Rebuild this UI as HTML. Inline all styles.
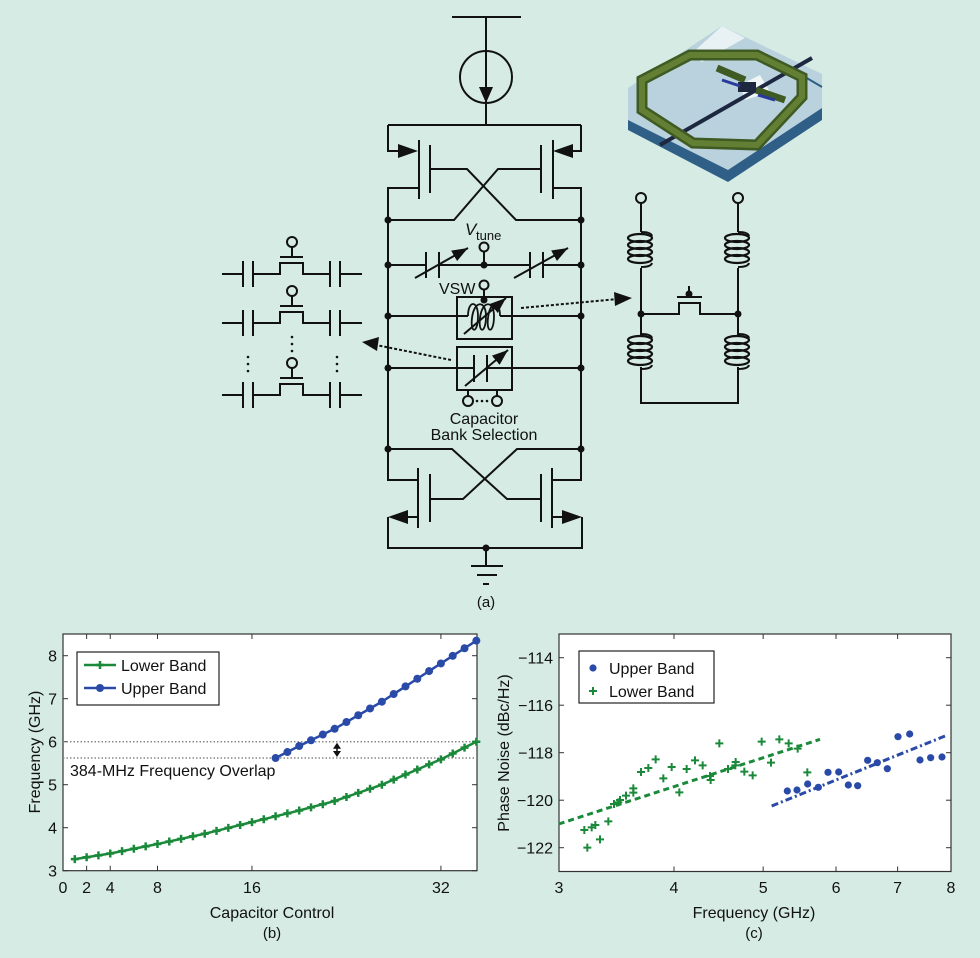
<!DOCTYPE html>
<html><head><meta charset="utf-8"><style>
html,body{margin:0;padding:0;background:#d5ebe3;}
svg{display:block;font-family:"Liberation Sans",sans-serif;}
</style></head><body>
<svg id="s" width="980" height="958" viewBox="0 0 980 958" xmlns="http://www.w3.org/2000/svg">
<defs>
<marker id="ah2" viewBox="0 0 10 10" markerWidth="16" markerHeight="12" refX="10" refY="5" orient="auto" markerUnits="userSpaceOnUse" preserveAspectRatio="none"><path d="M0,0 L10,5 L0,10 z" fill="#111"/></marker>
</defs>
<rect width="980" height="958" fill="#d5ebe3"/>

<!-- 3D inductor -->
<g>
<polygon points="628,92 722,30 822,80 822,120 728,182 628,130" fill="#2f5f86"/>
<polygon points="628,88 722,26 822,74 822,108 728,170 628,120" fill="#b9d2de"/>
<polygon points="722,26 745,38 702,62 690,55" fill="#e8f2f5"/>
<polygon points="740,85 760,75 770,92 745,100" fill="#f0f6f6"/>
<line x1="660" y1="145" x2="812" y2="58" stroke="#1e2740" stroke-width="4"/>
<line x1="805" y1="77" x2="822" y2="87" stroke="#2f5f86" stroke-width="2"/>
<polygon points="642,80 690,55 757,55 802,77 802,97 757,145 693,143 642,110" fill="none" stroke="#3f5a22" stroke-width="11" stroke-linejoin="miter"/>
<polygon points="642,80 690,55 757,55 802,77 802,97 757,145 693,143 642,110" fill="none" stroke="#637f34" stroke-width="6"/>
<line x1="717" y1="68" x2="745" y2="80" stroke="#3f5a22" stroke-width="7"/>
<line x1="756" y1="90" x2="785" y2="100" stroke="#3f5a22" stroke-width="7"/>
<rect x="738" y="82" width="18" height="10" fill="#1e2740"/>
<line x1="722" y1="80" x2="740" y2="86" stroke="#2a3a9a" stroke-width="3"/>
<line x1="758" y1="95" x2="775" y2="100" stroke="#2a3a9a" stroke-width="3"/>
</g>

<g stroke="#111" stroke-width="2" fill="none">
<line x1="452" y1="17" x2="521" y2="17"/>
<line x1="486" y1="17" x2="486" y2="125"/>
<circle cx="486" cy="77" r="26"/>
<line x1="388" y1="125" x2="581" y2="125"/>
<polyline points="388,125 388,151 405,151"/>
<line x1="419" y1="140" x2="419" y2="199"/>
<line x1="430" y1="145" x2="430" y2="193"/>
<polyline points="419,188 388,188 388,480 418,480"/>
<polyline points="430,169 467,169 516,220 581,220"/>
<polyline points="581,125 581,151 566,151"/>
<line x1="553" y1="140" x2="553" y2="199"/>
<line x1="541" y1="145" x2="541" y2="193"/>
<polyline points="553,188 581,188 581,480 552,480"/>
<polyline points="541,169 498,169 454,220 388,220"/>
<line x1="388" y1="265" x2="426" y2="265"/>
<line x1="426" y1="252" x2="426" y2="278"/>
<line x1="439" y1="252" x2="439" y2="278"/>
<line x1="439" y1="265" x2="530" y2="265"/>
<line x1="530" y1="252" x2="530" y2="278"/>
<line x1="543" y1="252" x2="543" y2="278"/>
<line x1="543" y1="265" x2="581" y2="265"/>
<line x1="484" y1="265" x2="484" y2="252"/>
<circle cx="484" cy="247" r="4.5" fill="#d5ebe3"/>
<line x1="388" y1="316" x2="457" y2="316"/>
<line x1="512" y1="316" x2="581" y2="316"/>
<rect x="457" y="297" width="55" height="42"/>
<line x1="457" y1="316" x2="468" y2="316"/>
<line x1="500" y1="316" x2="512" y2="316"/>
<path d="M468,316 C468,300 478,300 478,316 C478,334 470,334 472,318 C474,300 486,300 486,316 C486,334 478,334 480,318 C482,300 494,300 494,316 C494,334 486,334 488,318 C490,300 500,300 500,316" stroke-width="1.8"/>
<line x1="484" y1="290" x2="484" y2="300"/>
<circle cx="484" cy="285" r="4.5" fill="#d5ebe3"/>
<line x1="388" y1="368" x2="457" y2="368"/>
<line x1="512" y1="368" x2="581" y2="368"/>
<rect x="457" y="347" width="55" height="43"/>
<line x1="457" y1="368" x2="474" y2="368"/>
<line x1="474" y1="355" x2="474" y2="382"/>
<line x1="487" y1="355" x2="487" y2="382"/>
<line x1="487" y1="368" x2="512" y2="368"/>
<line x1="468" y1="390" x2="468" y2="396"/>
<line x1="497" y1="390" x2="497" y2="396"/>
<circle cx="468" cy="401" r="5" fill="#d5ebe3"/>
<circle cx="497" cy="401" r="5" fill="#d5ebe3"/>
<polyline points="388,449 452,449 507,499 541,499"/>
<polyline points="581,449 517,449 463,499 430,499"/>
<line x1="430" y1="474" x2="430" y2="522"/>
<line x1="418" y1="468" x2="418" y2="528"/>
<line x1="541" y1="474" x2="541" y2="522"/>
<line x1="552" y1="468" x2="552" y2="528"/>
<polyline points="418,517 400,517"/>
<polyline points="552,517 570,517"/>
<polyline points="388,517 388,548 582,548 582,517"/>
<line x1="486" y1="548" x2="486" y2="566"/>
<line x1="471" y1="566" x2="503" y2="566"/>
<line x1="477" y1="575" x2="497" y2="575"/>
<line x1="483" y1="584" x2="489" y2="584"/>
</g>
<g fill="#111">
<polygon points="486,103 479,87 493,87"/>
<polygon points="418,151 398,144 398,158"/>
<polygon points="553,151 573,144 573,158"/>
<polygon points="388,517 408,510 408,524"/>
<polygon points="582,517 562,510 562,524"/>
<circle cx="388" cy="220" r="3.5"/><circle cx="581" cy="220" r="3.5"/>
<circle cx="388" cy="265" r="3.5"/><circle cx="581" cy="265" r="3.5"/><circle cx="484" cy="265" r="3.5"/>
<circle cx="388" cy="316" r="3.5"/><circle cx="581" cy="316" r="3.5"/><circle cx="484" cy="300" r="3.5"/>
<circle cx="388" cy="368" r="3.5"/><circle cx="581" cy="368" r="3.5"/>
<circle cx="388" cy="449" r="3.5"/><circle cx="581" cy="449" r="3.5"/>
<circle cx="486" cy="548" r="3.5"/>
<circle cx="477" cy="401" r="1.3"/><circle cx="482" cy="401" r="1.3"/><circle cx="487" cy="401" r="1.3"/>
</g>
<g stroke="#111" stroke-width="2" marker-end="url(#ah2)">
<line x1="415" y1="278" x2="468" y2="248"/>
<line x1="514" y1="278" x2="568" y2="248"/>
<line x1="464" y1="334" x2="506" y2="298"/>
<line x1="465" y1="386" x2="508" y2="350"/>
</g>
<g stroke="#111" stroke-width="2" stroke-dasharray="3,2" fill="none">
<line x1="521" y1="308" x2="618" y2="299"/>
<line x1="451" y1="360" x2="376" y2="345"/>
</g>
<polygon points="632,298 614,292 615,306" fill="#111"/>
<polygon points="362,342 379,337 377,351" fill="#111"/>
<g fill="#111" font-size="16">
<text x="465" y="235" font-style="italic" font-size="17">V</text>
<text x="476" y="240" font-size="13">tune</text>
<text x="439" y="294" font-size="16">VSW</text>
<text x="484" y="424" text-anchor="middle">Capacitor</text>
<text x="484" y="440" text-anchor="middle">Bank Selection</text>
<text x="486" y="607" text-anchor="middle" font-size="15">(a)</text>
</g>

<g stroke="#111" stroke-width="2" fill="none" id="cb"></g>
<g fill="#111">
<circle cx="292" cy="337" r="1.3"/><circle cx="292" cy="344" r="1.3"/><circle cx="292" cy="351" r="1.3"/>
<circle cx="248" cy="357" r="1.3"/><circle cx="248" cy="364" r="1.3"/><circle cx="248" cy="371" r="1.3"/>
<circle cx="337" cy="357" r="1.3"/><circle cx="337" cy="364" r="1.3"/><circle cx="337" cy="371" r="1.3"/>
</g>

<g stroke="#111" stroke-width="2" fill="none" id="ri">
<line x1="641" y1="203" x2="641" y2="232"/>
<line x1="738" y1="203" x2="738" y2="232"/>
<circle cx="641" cy="198" r="5" fill="#d5ebe3"/>
<circle cx="738" cy="198" r="5" fill="#d5ebe3"/>
<line x1="641" y1="268" x2="641" y2="335"/>
<line x1="738" y1="268" x2="738" y2="335"/>
<polyline points="641,314 679,314 679,303 700,303 700,314 738,314"/>
<line x1="677" y1="297" x2="702" y2="297"/>
<line x1="689" y1="286" x2="689" y2="294"/>
<polyline points="641,367 641,403 738,403 738,367"/>
</g>
<g fill="#111"><circle cx="641" cy="314" r="3.5"/><circle cx="738" cy="314" r="3.5"/><circle cx="689" cy="294" r="3.5"/></g>

<g id="pb"></g>
<g id="pc"></g>
</svg>
<script>
var NS="http://www.w3.org/2000/svg";
function el(p,t,a,txt){var e=document.createElementNS(NS,t);for(var k in a)e.setAttribute(k,a[k]);if(txt!==undefined)e.textContent=txt;p.appendChild(e);return e;}
var cb=document.getElementById('cb');
[274,323,395].forEach(function(y){
 el(cb,'line',{x1:222,y1:y,x2:243,y2:y});
 el(cb,'line',{x1:243,y1:y-13,x2:243,y2:y+13});
 el(cb,'line',{x1:253,y1:y-13,x2:253,y2:y+13});
 el(cb,'polyline',{points:"253,"+y+" 280,"+y+" 280,"+(y-11)+" 303,"+(y-11)+" 303,"+y+" 330,"+y});
 el(cb,'line',{x1:280,y1:y-17,x2:303,y2:y-17});
 el(cb,'line',{x1:292,y1:y-17,x2:292,y2:y-27});
 el(cb,'circle',{cx:292,cy:y-32,r:5,fill:"#d5ebe3"});
 el(cb,'line',{x1:330,y1:y-13,x2:330,y2:y+13});
 el(cb,'line',{x1:340,y1:y-13,x2:340,y2:y+13});
 el(cb,'line',{x1:340,y1:y,x2:362,y2:y});
});
var ri=document.getElementById('ri');
function coil(x,y0){for(var i=0;i<4;i++){var y=y0+3+i*7;el(ri,'ellipse',{cx:x-1,cy:y+3,rx:12,ry:4,'stroke-width':2.2});}
 el(ri,'path',{d:"M"+x+","+y0+" q10,0 11,4 M"+x+","+(y0+35)+" q10,0 11,-4"});}
coil(641,232);coil(738,232);coil(641,334);coil(738,334);
var pb=document.getElementById('pb');
var X0=63,X1=477,Y0=870.7,Y1=634;
function bx(v){return X0+v*11.81;} function by(v){return 870.7-(v-3)*43;}
el(pb,'rect',{x:X0,y:Y1,width:X1-X0,height:Y0-Y1,fill:"#fff",stroke:"#333","stroke-width":1.2});
[0,2,4,8,16,32].forEach(function(v){var x=bx(v);el(pb,'line',{x1:x,y1:Y0,x2:x,y2:Y0-5,stroke:"#333"});el(pb,'line',{x1:x,y1:Y1,x2:x,y2:Y1+5,stroke:"#333"});
 el(pb,'text',{x:x,y:893,'text-anchor':'middle','font-size':16,fill:"#111"},String(v));});
[3,4,5,6,7,8].forEach(function(v){var y=by(v);el(pb,'line',{x1:X0,y1:y,x2:X0+5,y2:y,stroke:"#333"});el(pb,'line',{x1:X1,y1:y,x2:X1-5,y2:y,stroke:"#333"});
 el(pb,'text',{x:57,y:y+6,'text-anchor':'end','font-size':16,fill:"#111"},String(v));});
el(pb,'line',{x1:X0,y1:by(6.0),x2:X1,y2:by(6.0),stroke:"#888","stroke-dasharray":"1.5,2","stroke-width":1.5});
el(pb,'line',{x1:X0,y1:by(5.62),x2:X1,y2:by(5.62),stroke:"#888","stroke-dasharray":"1.5,2","stroke-width":1.5});
el(pb,'line',{x1:337,y1:by(6.0)+5,x2:337,y2:by(5.62)-5,stroke:"#111","stroke-width":1.5});
el(pb,'polygon',{points:"337,"+(by(6.0)+1)+" 333,"+(by(6.0)+7)+" 341,"+(by(6.0)+7),fill:"#111"});
el(pb,'polygon',{points:"337,"+(by(5.62)-1)+" 333,"+(by(5.62)-7)+" 341,"+(by(5.62)-7),fill:"#111"});
el(pb,'text',{x:70,y:776,'font-size':16,fill:"#111"},"384-MHz Frequency Overlap");
function interp(a,x){for(var i=0;i<a.length-1;i++){if(x<=a[i+1][0]){var t=(x-a[i][0])/(a[i+1][0]-a[i][0]);return a[i][1]+t*(a[i+1][1]-a[i][1]);}}return a[a.length-1][1];}
var LA=[[1,3.27],[4,3.4],[8,3.62],[12,3.86],[16,4.13],[20,4.4],[23,4.62],[27,5.0],[32,5.59],[35,6.0]];
var UA=[[18,5.62],[20,5.9],[23,6.3],[27,6.93],[32,7.82],[35,8.35]];
var lp=[],up=[];for(var i=1;i<=35;i++)lp.push([bx(i),by(interp(LA,i))]);for(var i=18;i<=35;i++)up.push([bx(i),by(interp(UA,i))]);
el(pb,'polyline',{points:lp.map(function(p){return p.join(',')}).join(' '),fill:"none",stroke:"#1a8a3a","stroke-width":2.5});
lp.forEach(function(p){el(pb,'path',{d:"M"+(p[0]-4)+","+p[1]+"h8M"+p[0]+","+(p[1]-4)+"v8",stroke:"#1a8a3a","stroke-width":2.5});});
el(pb,'polyline',{points:up.map(function(p){return p.join(',')}).join(' '),fill:"none",stroke:"#2a4aa8","stroke-width":2.5});
up.forEach(function(p){el(pb,'circle',{cx:p[0],cy:p[1],r:4,fill:"#2a4aa8"});});
el(pb,'rect',{x:77,y:652,width:142,height:53,fill:"#fff",stroke:"#222","stroke-width":1.2});
el(pb,'line',{x1:84,y1:665,x2:116,y2:665,stroke:"#1a8a3a","stroke-width":2.5});
el(pb,'path',{d:"M96,665h8M100,661v8",stroke:"#1a8a3a","stroke-width":2.5});
el(pb,'line',{x1:84,y1:688,x2:116,y2:688,stroke:"#2a4aa8","stroke-width":2.5});
el(pb,'circle',{cx:100,cy:688,r:4,fill:"#2a4aa8"});
el(pb,'text',{x:121,y:671,'font-size':16,fill:"#111"},"Lower Band");
el(pb,'text',{x:121,y:694,'font-size':16,fill:"#111"},"Upper Band");
el(pb,'text',{x:272,y:918,'text-anchor':'middle','font-size':16,fill:"#111"},"Capacitor Control");
el(pb,'text',{x:272,y:938,'text-anchor':'middle','font-size':15,fill:"#111"},"(b)");
el(pb,'text',{x:0,y:0,'text-anchor':'middle','font-size':16,fill:"#111",transform:"translate(40,752) rotate(-90)"},"Frequency (GHz)");
var pc=document.getElementById('pc');
var cX0=559,cX1=951,cY0=871.5,cY1=634;
function cx(f){return cX0+Math.log(f/3)/Math.log(8/3)*(cX1-cX0);} function cy(v){return 657.7+(-114-v)*23.75;}
el(pc,'rect',{x:cX0,y:cY1,width:cX1-cX0,height:cY0-cY1,fill:"#fff",stroke:"#333","stroke-width":1.2});
[3,4,5,6,7,8].forEach(function(v){var x=cx(v);el(pc,'line',{x1:x,y1:cY0,x2:x,y2:cY0-5,stroke:"#333"});el(pc,'line',{x1:x,y1:cY1,x2:x,y2:cY1+5,stroke:"#333"});
 el(pc,'text',{x:x,y:893,'text-anchor':'middle','font-size':16,fill:"#111"},String(v));});
[-114,-116,-118,-120,-122].forEach(function(v){var y=cy(v);el(pc,'line',{x1:cX0,y1:y,x2:cX0+5,y2:y,stroke:"#333"});el(pc,'line',{x1:cX1,y1:y,x2:cX1-5,y2:y,stroke:"#333"});
 el(pc,'text',{x:553,y:y+6,'text-anchor':'end','font-size':16,fill:"#111"},"\u2212"+(-v));});
function z(p){return [p[0]/3+490,p[1]/3+620];}
var g=[[283,630],[292,683],[305,622],[316,615],[330,658],[355,604],[372,552],[390,540],[408,527],[430,518],[430,505],[453,456],[475,444],[497,418],[520,475],[545,441],[568,517],[590,447],[615,421],[638,436],[660,468],[662,480],[688,370],[714,447],[737,426],[763,455],[788,466],[815,365],[843,428],[868,358],[896,370],[923,386],[952,457],[385,547],[736,436]];
var b=[[892,513],[921,510],[953,492],[985,502],[1014,457],[1046,456],[1075,495],[1103,497],[1133,421],[1162,428],[1192,446],[1224,350],[1259,342],[1290,420],[1322,413],[1356,411]];
var a=z([206,612]),c=z([990,358]);
el(pc,'line',{x1:a[0],y1:a[1],x2:c[0],y2:c[1],stroke:"#1a8a3a","stroke-width":3,"stroke-dasharray":"6,4"});
a=z([845,558]);c=z([1365,348]);
el(pc,'line',{x1:a[0],y1:a[1],x2:c[0],y2:c[1],stroke:"#2a4aa8","stroke-width":3,"stroke-dasharray":"7,3,2,3"});
g.forEach(function(q){var p=z(q);el(pc,'path',{d:"M"+(p[0]-4)+","+p[1]+"h8M"+p[0]+","+(p[1]-4)+"v8",stroke:"#1a8a3a","stroke-width":2});});
b.forEach(function(q){var p=z(q);el(pc,'circle',{cx:p[0],cy:p[1],r:3.6,fill:"#2a4aa8"});});
el(pc,'rect',{x:579,y:651,width:135,height:52,fill:"#fff",stroke:"#222","stroke-width":1.2});
el(pc,'circle',{cx:593,cy:668,r:3.6,fill:"#2a4aa8"});
el(pc,'path',{d:"M589,691h8M593,687v8",stroke:"#1a8a3a","stroke-width":2});
el(pc,'text',{x:609,y:674,'font-size':16,fill:"#111"},"Upper Band");
el(pc,'text',{x:609,y:697,'font-size':16,fill:"#111"},"Lower Band");
el(pc,'text',{x:754,y:918,'text-anchor':'middle','font-size':16,fill:"#111"},"Frequency (GHz)");
el(pc,'text',{x:754,y:938,'text-anchor':'middle','font-size':15,fill:"#111"},"(c)");
el(pc,'text',{x:0,y:0,'text-anchor':'middle','font-size':16,fill:"#111",transform:"translate(509,753) rotate(-90)"},"Phase Noise (dBc/Hz)");
</script>
</body></html>
